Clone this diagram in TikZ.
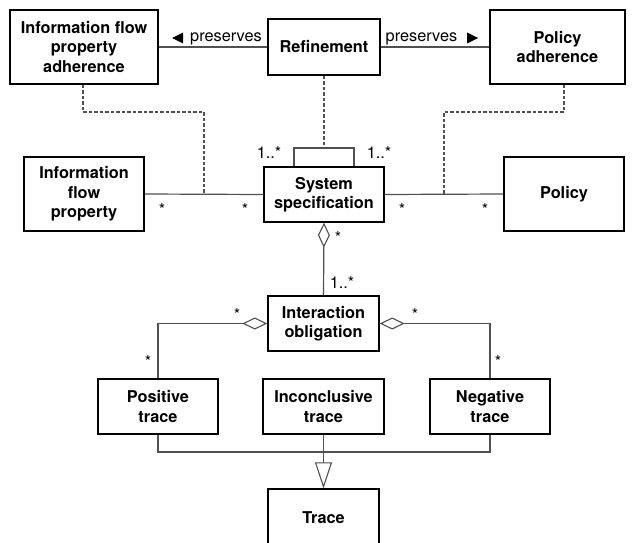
\documentclass[tikz,border=0pt]{standalone}
\usepackage{fontspec}
\setmainfont{TeX Gyre Heros}
\usetikzlibrary{arrows.meta}
\definecolor{linegray}{RGB}{80,80,80}
\begin{document}
\begin{tikzpicture}[x=1pt,y=-1pt,
  cls/.style={draw=black,line width=1.4pt,fill=white,inner sep=0pt,align=center,
    font=\fontsize{16.3}{19.5}\selectfont\bfseries},
  conn/.style={draw=linegray,line width=1.2pt},
  dep/.style={draw=linegray,line width=1.1pt,dash pattern=on 3.5pt off 2pt},
  mult/.style={inner sep=0pt,font=\fontsize{16.3}{19.5}\selectfont},
  agg/.style={conn,{Diamond[open,fill=white,length=25pt,width=12pt,line width=1.1pt]}-},
  gen/.style={conn,-{Triangle[open,fill=white,length=26pt,width=17pt,line width=1.1pt]}}
]
\useasboundingbox (0,0) rectangle (632,543);
\clip (0,0) rectangle (632,543);

% boxes
\node[cls,minimum width=148pt,minimum height=74pt] (ifpa) at (84,47) {Information flow\\property\\adherence};
\node[cls,minimum width=112pt,minimum height=56pt] (ref) at (324,47) {Refinement};
\node[cls,minimum width=135pt,minimum height=74pt] (pa) at (557.5,47) {Policy\\adherence};
\node[cls,minimum width=120pt,minimum height=74pt] (ifp) at (84,194) {Information\\flow\\property};
\node[cls,minimum width=120pt,minimum height=55pt] (ss) at (324,194.5) {System\\specification};
\node[cls,minimum width=120pt,minimum height=74pt] (pol) at (564,194) {Policy};
\node[cls,minimum width=111pt,minimum height=55pt] (io) at (323.5,323.5) {Interaction\\obligation};
\node[cls,minimum width=120pt,minimum height=55pt] (pt) at (158,406.5) {Positive\\trace};
\node[cls,minimum width=121pt,minimum height=55pt] (it) at (323.5,406.5) {Inconclusive\\trace};
\node[cls,minimum width=120pt,minimum height=55pt] (nt) at (490,406.5) {Negative\\trace};
\node[cls,minimum width=111pt,minimum height=58pt] (tr) at (323.5,518) {Trace};

% preserves associations
\draw[conn] (ifpa.east) -- (ref.west);
\draw[conn] (ref.east) -- (pa.west);
\node[mult] (pl) at (226,38.5) {preserves};
\node[mult] (pr) at (421.5,38.5) {preserves};
\fill[black] (172,38) -- (183,32.5) -- (183,43.5) -- cycle;
\fill[black] (478,38) -- (467,32.5) -- (467,43.5) -- cycle;

% associations to system specification
\draw[conn] (ifp.east) -- (ss.west);
\draw[conn] (ss.east) -- (pol.west);
\coordinate (dl) at (204,194);
\coordinate (dr) at (444,194);
\coordinate (dlk) at (204,112);
\coordinate (drk) at (444,112);

% self association
\coordinate (sl) at (294,148);
\coordinate (sr) at (354,148);
\coordinate (st) at (324,148);
\draw[conn] (ss.north -| sl) -- (sl) -- (sr) -- (ss.north -| sr);

% dependencies (dashed)
\draw[dep] (ifpa.south -| 83,0) |- (dlk) -- (dl);
\draw[dep] (pa.south -| 564,0) |- (drk) -- (dr);
\draw[dep] (ref.south) -- (st);

% multiplicities
\node[mult] at (269,153) {1..*};
\node[mult] at (379,153) {1..*};
\node[mult] at (162,210) {*};
\node[mult] at (245,210) {*};
\node[mult] at (402,210) {*};
\node[mult] at (485,210) {*};

% aggregations
\draw[agg] (ss.south) -- (io.north);
\node[mult] at (338,238) {*};
\node[mult] at (342,283) {1..*};
\draw[agg] (io.west) -| (pt.north);
\draw[agg] (io.east) -| (nt.north);
\node[mult] at (237,315) {*};
\node[mult] at (148,362) {*};
\node[mult] at (415,315) {*};
\node[mult] at (498,362) {*};

% generalization
\coordinate (j) at (323.5,452);
\draw[conn] (pt.south) |- (j) -| (nt.south);
\draw[gen] (it.south) -- (tr.north);
\end{tikzpicture}
\end{document}
